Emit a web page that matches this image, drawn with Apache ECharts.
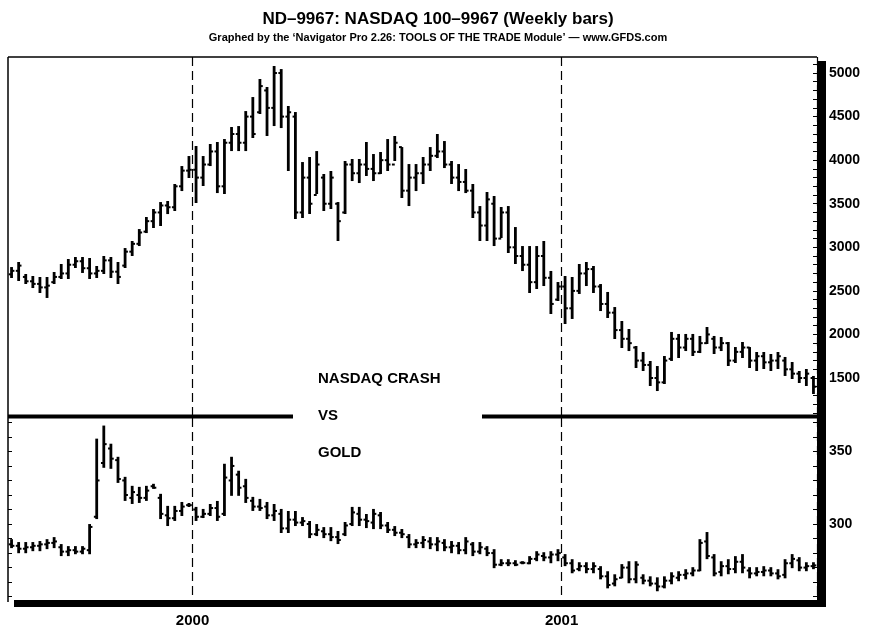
<!DOCTYPE html>
<html>
<head>
<meta charset="utf-8">
<title>ND-9967 vs Gold</title>
<script src="https://cdn.jsdelivr.net/npm/echarts/dist/echarts.min.js"></script>
<style>
  html, body { margin: 0; padding: 0; background: #fff; }
  #chart { width: 876px; height: 629px; }
</style>
</head>
<body>
<div id="chart"></div>
<script>
  // weekly bars, first week = week of 5 Jul 1999
  var firstWeek = '1999-07-05'
  var weekCount = 114

  // NASDAQ 100 (top panel)
  var ndOpen = [2690,2730,2660,2610,2580,2540,2600,2660,2700,2800,2840,2760,2700,2730,2850,2720,
    2790,2950,3040,3180,3300,3400,3480,3460,3700,3880,
    3890,3800,3950,4100,3700,4200,4300,4200,4500,4550,4800,4600,5000,4500,4500,3400,3800,3600,3800,3500,
    3500,3400,3950,3850,3950,3900,3850,4000,3950,4150,3650,3800,3850,3950,4050,4100,3950,3800,3750,3650,
    3400,3250,3500,3100,3400,3000,2900,2800,2600,2900,2650,2400,
    2550,2300,2500,2700,2750,2550,2350,2250,2050,1950,1850,1700,1650,1500,1450,1720,1950,1850,1950,1800,
    1900,1950,1850,1900,1700,1800,1850,1700,1750,1680,1700,1700,1600,1550,1500,1500]
  var ndHigh = [2762,2820,2682,2659,2648,2648,2705,2797,2854,2877,2877,2866,2774,2889,2877,2820,
    2980,3061,3198,3336,3428,3508,3520,3715,3921,4036,
    4151,4036,4174,4197,4231,4369,4380,4552,4713,4920,4828,5069,5034,4610,4541,3967,4025,4093,3830,3864,
    3508,3979,4002,4002,4197,4059,4082,4231,4266,4139,3944,3944,4025,4139,4289,4208,3979,3944,3887,3715,
    3462,3623,3577,3451,3462,3221,3003,3003,3003,3061,2717,2590,
    2659,2648,2797,2820,2774,2567,2476,2303,2143,2051,1856,1787,1684,1626,1741,2017,1994,1994,1994,1971,
    2074,1971,1959,1902,1844,1902,1844,1787,1787,1764,1787,1730,1672,1569,1592,1512]
  var ndLow = [2659,2625,2590,2544,2487,2430,2590,2648,2648,2774,2717,2648,2659,2705,2659,2590,
    2774,2912,3026,3175,3233,3256,3393,3428,3657,3807,
    3520,3715,3944,3634,3623,4116,4116,4116,4266,4541,4289,4403,4380,3887,3336,3348,3394,3623,3428,3451,
    3084,3394,3772,3749,3830,3772,3853,3887,4002,3577,3485,3657,3738,3887,4036,3921,3738,3657,3634,3348,
    3084,3084,3026,3118,2946,2820,2739,2487,2533,2567,2246,2395,
    2131,2189,2476,2567,2487,2280,2200,1959,1856,1821,1626,1592,1420,1362,1443,1707,1741,1821,1764,1798,
    1902,1787,1821,1649,1684,1741,1626,1592,1615,1592,1615,1535,1500,1454,1420,1328]
  var ndClose = [2730,2790,2610,2580,2540,2560,2660,2700,2800,2840,2760,2700,2730,2850,2720,2660,
    2950,3040,3170,3300,3400,3480,3460,3700,3880,3890,
    3800,3950,4100,3700,4200,4300,4200,4500,4300,4850,4600,5000,4500,4550,3400,3800,3500,3950,3500,3800,
    3300,3950,3850,3950,3900,3850,4000,3950,4200,3650,3800,3850,3950,4050,4100,3950,3800,3750,3650,3400,
    3250,3550,3100,3400,3000,2900,2800,2600,2900,2650,2350,2550,
    2300,2500,2700,2750,2550,2350,2250,2050,1950,1900,1700,1650,1500,1450,1700,1950,1850,1950,1800,1900,
    2000,1850,1900,1700,1800,1850,1700,1750,1680,1700,1750,1600,1550,1500,1550,1400]

  // Gold (bottom panel)
  var goldOpen = [286,285,283,284,285,286,287,284,281,282,281,282,305,342,352,344,330,318,320,318,326,
    318,306,304,309,313,310,305,307,311,307,330,334,326,316,312,312,306,307,297,303,301,300,293,295,293,
    291,293,300,307,303,301,306,299,296,294,291,286,287,288,286,287,284,285,282,286,281,283,280,272,273,
    273,273.4,273,276,278,277,279,277,273,269,271,269,269,264,259,263,270,262,263,261,259,257,261,263,265,
    266,268,288,277,267,271,269,274,268,266,267,268,266,265,273,275,270,271]
  var goldHigh = [288.9,286.9,286.9,286.9,287.6,288.9,290.3,285.5,284.1,284.1,284.1,299.3,358.1,367.1,354.6,
    345.6,331.8,325.6,324.9,325.6,327,320.1,311.8,311.8,314.5,313.8,311.1,309.7,313.1,315.2,340.8,345.6,
    336,330.4,318,316.6,314.5,313.1,309.7,308.3,308.3,304.1,301.4,299.3,297.2,297.2,294.5,300.7,311.1,311.1,
    306.2,309.7,307.6,300.7,297.9,295.9,292.4,288.9,291,290.3,290.3,288.9,287.6,286.9,290.3,286.9,286.9,
    284.1,282,275.1,275.1,274.4,273.7,277.2,280.6,279.9,280.6,282,278.6,275.1,273,273,273,270.3,266.8,
    264.7,271.7,273.7,273.7,264.7,263.3,262.6,263.3,266.1,266.8,268.2,269.6,288.9,293.8,278.6,273.7,275.1,
    277.2,278.6,269.6,269.6,270.3,269.6,268.2,275.1,278.6,276.5,273,273]
  var goldLow = [284.1,280.6,280.6,282,282,283.4,284.1,278.6,278.6,279.9,279.9,279.9,304.1,339.4,338.7,
    329,316.6,314.5,315.2,316.6,324.9,304.1,299.3,302.8,306.2,312.4,302.8,304.8,306.2,302.8,306.2,320.1,
    320.1,315.2,309.7,309.7,304.1,302.8,294.5,294.5,299.3,299.3,291,292.4,291,288.9,286.9,292.4,299.3,299.3,
    297.9,297.2,297.2,294.5,292.4,291,284.1,284.1,284.1,283.4,282,282,280.6,279.9,279.9,278.6,279.9,
    278.6,270.3,271.7,271.7,271.7,273,273,275.1,275.1,273.7,275.1,271.7,266.8,268.2,266.8,266.8,262.6,256.4,
    257.8,263.3,259.9,259.9,259.2,257.8,254.4,256.4,259.2,261.3,262.6,264.7,268.2,276.5,264.7,264.7,266.1,
    266.8,266.8,263.3,264.7,264.7,264.7,262.6,263.3,270.3,268.2,268.2,269.6]
  var goldClose = [285,283,284,285,286,287,288,281,282,281,283,298,330,355,345,331,320,322,318,323,325,
    307,304,309,312,313,305,307,311,305,332,340,325,318,312,311,306,309,297,303,301,302,293,296,293,291,
    289,299,308,303,302,307,299,296,294,293,286,287,289,286,288,284,285,282,288,281,284,280,272,273,273,
    272,273.3,276,279,277,279,280,273,268,271,269,271,264,258,262,270,262,272,261,259,257,261,264,265,266,
    268,287,278,266,271,269,274,270,266,267,268,266,264,273,276,270,271,271.5]

  // axis ticks
  var ndTicks = [1500, 2000, 2500, 3000, 3500, 4000, 4500, 5000]
  var ndMinorTicks = [1100,1200,1300,1400,1500,1600,1700,1800,1900,2000,2100,2200,2300,2400,2500,2600,
    2700,2800,2900,3000,3100,3200,3300,3400,3500,3600,3700,3800,3900,4000,4100,4200,4300,4400,4500,4600,
    4700,4800,4900,5000,5100]
  var goldTicks = [300, 350]
  var goldMinorTicks = [250,260,270,280,290,300,310,320,330,340,350,360,370]

  var weeks = []
  var d0 = new Date(firstWeek + 'T00:00:00Z')
  for (var i = 0; i < weekCount; i++) {
    var d = new Date(d0.getTime() + i * 7 * 86400000)
    weeks.push(d.toISOString().slice(0, 10))
  }
  // first week of each new year -> dashed line + year label
  var isYearStart = function (index) {
    return index > 0 && weeks[index].slice(0, 4) !== weeks[index - 1].slice(0, 4)
  }

  var toRows = function (o, h, l, c) {
    return weeks.map(function (w, i) { return [i, o[i], h[i], l[i], c[i]] })
  }

  var renderOHLC = function (params, api) {
    var x = api.value(0)
    var o = api.coord([x, api.value(1)])
    var h = api.coord([x, api.value(2)])
    var l = api.coord([x, api.value(3)])
    var c = api.coord([x, api.value(4)])
    var w = api.size([1, 0])[0] * 0.4
    var st = { stroke: '#000', lineWidth: 2 }
    return {
      type: 'group',
      children: [
        { type: 'line', shape: { x1: h[0], y1: h[1] - 1, x2: l[0], y2: l[1] + 1 }, style: { stroke: '#000', lineWidth: 2.8 } },
        { type: 'line', shape: { x1: o[0] - w, y1: o[1], x2: o[0], y2: o[1] }, style: st },
        { type: 'line', shape: { x1: c[0], y1: c[1], x2: c[0] + w, y2: c[1] }, style: st }
      ]
    }
  }

  var font = '"Liberation Sans", Arial, Helvetica, sans-serif'
  var plain = function (v) { return String(v) }
  var dashed = { show: true, interval: isYearStart, lineStyle: { color: '#000', width: 1.2, type: [9, 5] } }

  var myChart = echarts.init(document.getElementById('chart'))
  var option = {
    animation: false,
    backgroundColor: '#fff',
    title: {
      text: 'ND\u20139967: NASDAQ 100\u20139967 (Weekly bars)',
      subtext: 'Graphed by the \u2018Navigator Pro 2.26: TOOLS OF THE TRADE Module\u2019 \u2014 www.GFDS.com',
      left: 'center',
      top: 6,
      itemGap: 4,
      textStyle: { fontFamily: font, fontSize: 17, fontWeight: 'bold', color: '#000' },
      subtextStyle: { fontFamily: font, fontSize: 11, fontWeight: 'bold', color: '#000' }
    },
    grid: [
      { left: 8, width: 809, top: 57, height: 359 },
      { left: 8, width: 809, top: 418, height: 183 }
    ],
    xAxis: [
      {
        type: 'category', gridIndex: 0, data: weeks, boundaryGap: true,
        axisLine: { show: false }, axisTick: { show: false }, axisLabel: { show: false },
        splitLine: dashed
      },
      {
        type: 'category', gridIndex: 1, data: weeks, boundaryGap: true,
        axisLine: { show: false }, axisTick: { show: false },
        axisLabel: {
          interval: isYearStart,
          formatter: function (v) { return v.slice(0, 4) },
          margin: 12,
          padding: [0, 7, 0, 0],
          fontFamily: font, fontSize: 15, fontWeight: 'bold', color: '#000'
        },
        splitLine: dashed
      }
    ],
    yAxis: [
      {
        type: 'value', gridIndex: 0, position: 'right', min: 1064, max: 5184,
        axisLine: { show: false },
        axisTick: { show: true, inside: true, length: 4, customValues: ndMinorTicks, lineStyle: { color: '#000' } },
        axisLabel: { customValues: ndTicks, formatter: plain, margin: 12, fontFamily: font, fontSize: 14, fontWeight: 'bold', color: '#000' },
        splitLine: { show: false }
      },
      {
        type: 'value', gridIndex: 1, position: 'right', min: 247, max: 373,
        axisLine: { show: false },
        axisTick: { show: true, inside: true, length: 4, customValues: goldMinorTicks, lineStyle: { color: '#000' } },
        axisLabel: { customValues: goldTicks, formatter: plain, margin: 12, fontFamily: font, fontSize: 14, fontWeight: 'bold', color: '#000' },
        splitLine: { show: false }
      },
      {
        type: 'value', gridIndex: 1, position: 'left', min: 247, max: 373,
        axisLine: { show: false },
        axisTick: { show: true, inside: true, length: 4, customValues: goldMinorTicks, lineStyle: { color: '#000' } },
        axisLabel: { show: false },
        splitLine: { show: false }
      }
    ],
    series: [
      {
        name: 'NASDAQ 100', type: 'custom', xAxisIndex: 0, yAxisIndex: 0,
        renderItem: renderOHLC, encode: { x: 0, y: [1, 2, 3, 4] },
        data: toRows(ndOpen, ndHigh, ndLow, ndClose)
      },
      {
        name: 'Gold', type: 'custom', xAxisIndex: 1, yAxisIndex: 1,
        renderItem: renderOHLC, encode: { x: 0, y: [1, 2, 3, 4] },
        data: toRows(goldOpen, goldHigh, goldLow, goldClose)
      }
    ],
    graphic: [
      // frame: thin top/left, thick right/bottom, divider with a gap for the caption
      { type: 'line', z: 100, shape: { x1: 8, y1: 57, x2: 817, y2: 57 }, style: { stroke: '#000', lineWidth: 1.5 } },
      { type: 'line', z: 100, shape: { x1: 8, y1: 57, x2: 8, y2: 602 }, style: { stroke: '#000', lineWidth: 1.5 } },
      { type: 'line', z: 100, shape: { x1: 8, y1: 416.5, x2: 293, y2: 416.5 }, style: { stroke: '#000', lineWidth: 4 } },
      { type: 'line', z: 100, shape: { x1: 482, y1: 416.5, x2: 817, y2: 416.5 }, style: { stroke: '#000', lineWidth: 4 } },
      { type: 'rect', z: 100, shape: { x: 817, y: 61, width: 9, height: 546 }, style: { fill: '#000' } },
      { type: 'rect', z: 100, shape: { x: 14, y: 600, width: 812, height: 7 }, style: { fill: '#000' } },
      { type: 'text', z: 100, x: 318, y: 379, style: { text: 'NASDAQ CRASH', font: 'bold 15px ' + font, fill: '#000', verticalAlign: 'middle' } },
      { type: 'text', z: 100, x: 318, y: 416, style: { text: 'VS', font: 'bold 15px ' + font, fill: '#000', verticalAlign: 'middle' } },
      { type: 'text', z: 100, x: 318, y: 453, style: { text: 'GOLD', font: 'bold 15px ' + font, fill: '#000', verticalAlign: 'middle' } }
    ]
  }

  myChart.setOption(option)
</script>
</body>
</html>
